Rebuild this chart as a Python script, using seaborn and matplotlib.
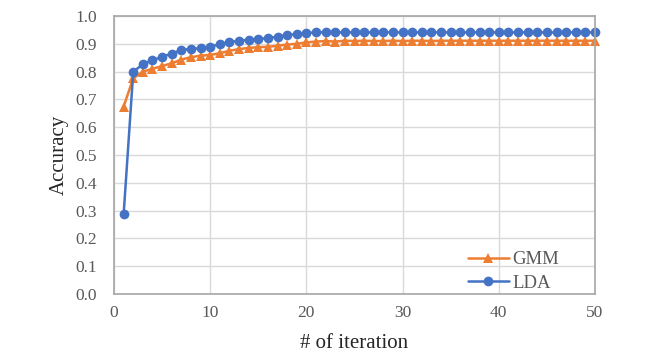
import matplotlib
matplotlib.use("Agg")
import pandas as pd
import matplotlib.pyplot as plt
import seaborn as sns

iterations = list(range(1, 51))
gmm = [0.674, 0.776, 0.800, 0.810, 0.820, 0.830, 0.843, 0.852, 0.857, 0.860,
       0.866, 0.875, 0.881, 0.885, 0.888, 0.889, 0.893, 0.897, 0.900, 0.905,
       0.908, 0.910, 0.908, 0.911, 0.910, 0.911, 0.910, 0.910, 0.911, 0.910,
       0.911, 0.911, 0.910, 0.911, 0.911, 0.911, 0.911, 0.911, 0.911, 0.911,
       0.911, 0.911, 0.911, 0.911, 0.911, 0.911, 0.911, 0.911, 0.911, 0.911]
lda = [0.286, 0.799, 0.827, 0.841, 0.853, 0.865, 0.877, 0.882, 0.884, 0.889,
       0.899, 0.906, 0.911, 0.914, 0.918, 0.920, 0.926, 0.931, 0.935, 0.939,
       0.941, 0.942, 0.941, 0.941, 0.941, 0.941, 0.941, 0.941, 0.941, 0.941,
       0.941, 0.941, 0.941, 0.941, 0.941, 0.941, 0.941, 0.941, 0.941, 0.941,
       0.941, 0.941, 0.941, 0.941, 0.941, 0.941, 0.941, 0.941, 0.941, 0.941]

df = pd.DataFrame({'iter': iterations + iterations,
                   'acc': gmm + lda,
                   'model': ['GMM'] * 50 + ['LDA'] * 50})

sns.set_style("whitegrid")
plt.rcParams['font.family'] = ['Liberation Serif', 'DejaVu Serif']

fig = plt.figure(figsize=(6.64, 3.55), dpi=100)
ax = fig.add_axes([114 / 664, 1 - 294 / 355, 481 / 664, 278 / 355])

sns.lineplot(data=df, x='iter', y='acc', hue='model', style='model',
             palette={'GMM': '#ED7D31', 'LDA': '#4472C4'},
             markers={'GMM': '^', 'LDA': 'o'}, dashes=False,
             linewidth=1.8, markersize=7, markeredgewidth=0,
             clip_on=False, ax=ax)

ax.set_xlim(0, 50)
ax.set_ylim(0, 1.0)
ax.set_xticks(range(0, 51, 10))
ax.set_yticks([i / 10 for i in range(11)])
ax.set_yticklabels([f"{i / 10:.1f}" for i in range(11)])
ax.grid(True, color='#D9D9D9', linewidth=1)
for s in ax.spines.values():
    s.set_color('#A6A6A6')
    s.set_linewidth(1.2)
ax.tick_params(labelsize=12.5, colors='#595959', length=0)
ax.tick_params(axis='y', pad=12)
ax.tick_params(axis='x', pad=8)
ax.set_xlabel('# of iteration', fontsize=15, labelpad=9)
ax.set_ylabel('Accuracy', fontsize=15, labelpad=5)

leg = ax.legend(loc='lower right', bbox_to_anchor=(0.953, -0.04), frameon=False,
                fontsize=13.5, handlelength=2.2, borderaxespad=0.3,
                labelspacing=0.35, handletextpad=0.2)
for t in leg.get_texts():
    t.set_color('#595959')

fig.savefig('out.png', dpi=100)
